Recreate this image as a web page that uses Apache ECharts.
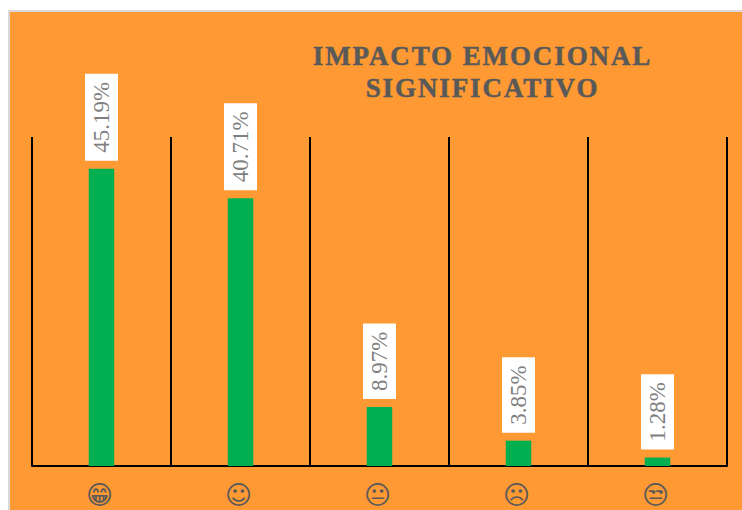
<!DOCTYPE html>
<html><head><meta charset="utf-8">
<script src="https://cdn.jsdelivr.net/npm/echarts@6/dist/echarts.min.js"></script>
<style>
html,body{margin:0;padding:0;background:#fff;overflow:hidden}
#main{width:742px;height:510px}
svg text[style*="bold"]{letter-spacing:1.9px}
</style></head><body>
<div id="main"></div>
<script>
const categories = ['\u{1F601}','\u263A\uFE0E','\u{1F610}','\u2639\uFE0E','\u{1F612}'];
const shares = [45.19, 40.71, 8.97, 3.85, 1.28];
const titleText = 'IMPACTO EMOCIONAL\nSIGNIFICATIVO';
const chart = echarts.init(document.getElementById('main'), null, {renderer:'svg', width:742, height:510});
chart.setOption({
  animation:false,
  backgroundColor:'#fff',
  graphic:[{type:'rect',silent:true,z:-10,shape:{x:9,y:11,width:760,height:520},
    style:{fill:'#FF9933',stroke:'#D9D9D9',lineWidth:2}}],
  title:{text:titleText,left:477.5,top:35,textAlign:'center',
    textStyle:{fontFamily:'Liberation Serif',fontWeight:'bold',fontSize:27,lineHeight:32,color:'#595959',
      textBorderColor:'#595959',textBorderWidth:0.5}},
  grid:{left:32,right:15,top:137,bottom:44,containLabel:false},
  xAxis:{type:'category',data:categories,
    axisLine:{show:true,lineStyle:{color:'#000',width:2}},
    axisTick:{show:false},
    splitLine:{show:true,interval:0,lineStyle:{color:'#000',width:2}},
    axisLabel:{interval:0,margin:16,fontFamily:'DejaVu Sans',fontSize:26,color:'#595959',padding:[0,4,0,0]}},
  yAxis:{type:'value',min:0,max:50,show:false,splitLine:{show:false}},
  series:[{type:'bar',data:shares,barWidth:25.5,
    itemStyle:{color:'#00B050'},
    label:{show:true,position:'top',distance:8,rotate:90,align:'left',verticalAlign:'middle',
      formatter:p=>p.value.toFixed(2)+'%',
      fontFamily:'Liberation Serif',fontSize:23,color:'#7F7F7F',backgroundColor:'#fff',
      padding:[5,8,5,8]}}]
});
</script></body></html>
